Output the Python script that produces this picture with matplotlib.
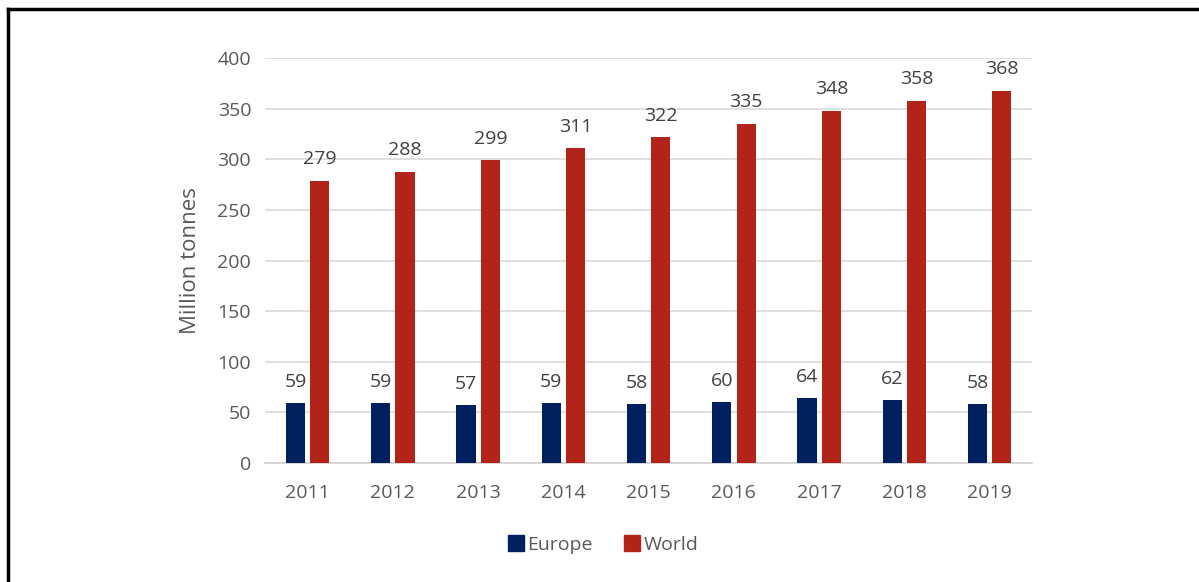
import matplotlib.pyplot as plt
import numpy as np
from matplotlib.lines import Line2D

years = ["2011", "2012", "2013", "2014", "2015", "2016", "2017", "2018", "2019"]
europe = [59, 59, 57, 59, 58, 60, 64, 62, 58]
world = [279, 288, 299, 311, 322, 335, 348, 358, 368]

plt.rcParams['font.family'] = ['Open Sans', 'DejaVu Sans']
grey = '#595959'
c_eu = '#002060'
c_w = '#b22319'

fig = plt.figure(figsize=(11.99, 5.82), dpi=100)
ax = fig.add_axes([0.221, 0.2045, 0.64, 0.6955])

x = np.arange(len(years))
w = 0.225
off = 0.143
b1 = ax.bar(x - off, europe, w, color=c_eu, label='Europe', zorder=3)
b2 = ax.bar(x + off, world, w, color=c_w, label='World', zorder=3)

for rects, vals in ((b1, europe), (b2, world)):
    for r, v in zip(rects, vals):
        ax.annotate(str(v), (r.get_x() + r.get_width() / 2, v),
                    xytext=(0, 9), textcoords='offset points',
                    ha='center', va='bottom', fontsize=14, color='#404040')

ax.set_xlim(-0.5, len(years) - 0.5)
ax.set_ylim(0, 400)
ax.set_yticks(range(0, 401, 50))
ax.set_xticks(x)
ax.set_xticklabels(years)
ax.yaxis.grid(True, color='#d9d9d9', linewidth=1.2, zorder=0)
ax.set_axisbelow(True)
for s in ('top', 'right', 'left'):
    ax.spines[s].set_visible(False)
ax.spines['bottom'].set_color('#d0d0d0')
ax.spines['bottom'].set_linewidth(1.2)
ax.tick_params(axis='both', length=0, labelsize=14, colors=grey, pad=10)
ax.tick_params(axis='x', pad=15)
ax.set_ylabel('Million tonnes', fontsize=16, color=grey, labelpad=12)

handles = [Line2D([], [], marker='s', linestyle='', markersize=11, color=c_eu),
           Line2D([], [], marker='s', linestyle='', markersize=11, color=c_w)]
fig.legend(handles, ['Europe', 'World'], loc='center', bbox_to_anchor=(602 / 1199, 1 - 545 / 582),
           ncol=2, frameon=False, fontsize=14, labelcolor=grey, handletextpad=0.1,
           columnspacing=1.5, handlelength=1.0)

# frame lines at left and top
fig.add_artist(Line2D([8 / 1199, 8 / 1199], [0, 1 - 9 / 582], color='black', linewidth=2.5,
                      transform=fig.transFigure))
fig.add_artist(Line2D([8 / 1199, 1], [1 - 9 / 582, 1 - 9 / 582], color='black', linewidth=2.5,
                      transform=fig.transFigure))

fig.savefig('out.png', dpi=100)
